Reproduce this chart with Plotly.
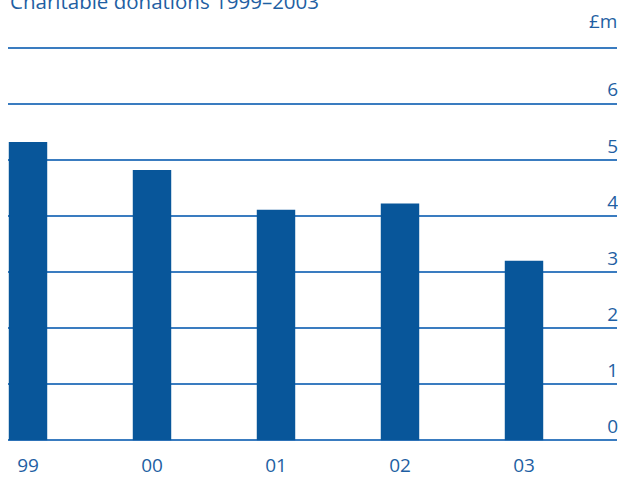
import plotly.graph_objects as go

# Charitable donations by year, £m
years = ["99", "00", "01", "02", "03"]
donations = [5.32, 4.82, 4.11, 4.22, 3.20]

grid_values = [0, 1, 2, 3, 4, 5, 6, 7]
grid_labels = ["0", "1", "2", "3", "4", "5", "6", ""]

BAR = "#08569a"
TEXT = "#1f5fa3"
GRID = "#3a7cc0"
FONT = "Open Sans"

W, H = 618, 481
PX_PER_UNIT = 56.07
PAD = 0.03  # small range padding so the 0 and 7 gridlines are not clipped
M_L, M_R = 8, 1
M_T = 48 - PAD * PX_PER_UNIT
M_B = 40.5 - PAD * PX_PER_UNIT
plot_h = H - M_T - M_B

fig = go.Figure(
    go.Bar(
        x=years,
        y=donations,
        width=0.31,
        marker=dict(color=BAR, line=dict(width=0)),
        hoverinfo="x+y",
    )
)

fig.update_layout(
    width=W,
    height=H,
    margin=dict(l=M_L, r=M_R, t=M_T, b=M_B, pad=0),
    paper_bgcolor="white",
    plot_bgcolor="white",
    showlegend=False,
    font=dict(family=FONT, color=TEXT, size=19),
)

fig.update_xaxes(
    type="category",
    range=[-0.1613, 4.75],
    showgrid=False,
    zeroline=False,
    showline=False,
    ticks="",
    tickfont=dict(family=FONT, color=TEXT, size=19),
    ticklabelstandoff=10,
    automargin=False,
    fixedrange=True,
)

fig.update_yaxes(
    range=[-PAD, 7 + PAD],
    side="right",
    tickvals=grid_values,
    ticktext=grid_labels,
    ticklabelposition="inside",
    ticklabelshift=-14,
    ticklabelstandoff=-4,
    ticks="",
    showgrid=True,
    gridcolor=GRID,
    gridwidth=1.5,
    zeroline=False,
    showline=False,
    tickfont=dict(family=FONT, color=TEXT, size=19),
    automargin=False,
    fixedrange=True,
)

# unit label above the top gridline
fig.add_annotation(
    text="£m",
    xref="paper", yref="paper",
    x=1.0, y=1 + (M_T - 21) / plot_h,
    xanchor="right", yanchor="middle",
    showarrow=False,
    xshift=2,
    font=dict(family=FONT, color=TEXT, size=19),
)

# chart title
fig.add_annotation(
    text="Charitable donations 1999–2003",
    xref="paper", yref="paper",
    x=0.0, y=1 + (M_T - 1) / plot_h,
    xanchor="left", yanchor="middle",
    showarrow=False,
    font=dict(family=FONT, color=TEXT, size=20.5),
)

fig.write_html("out.html", config=dict(displayModeBar=False))
